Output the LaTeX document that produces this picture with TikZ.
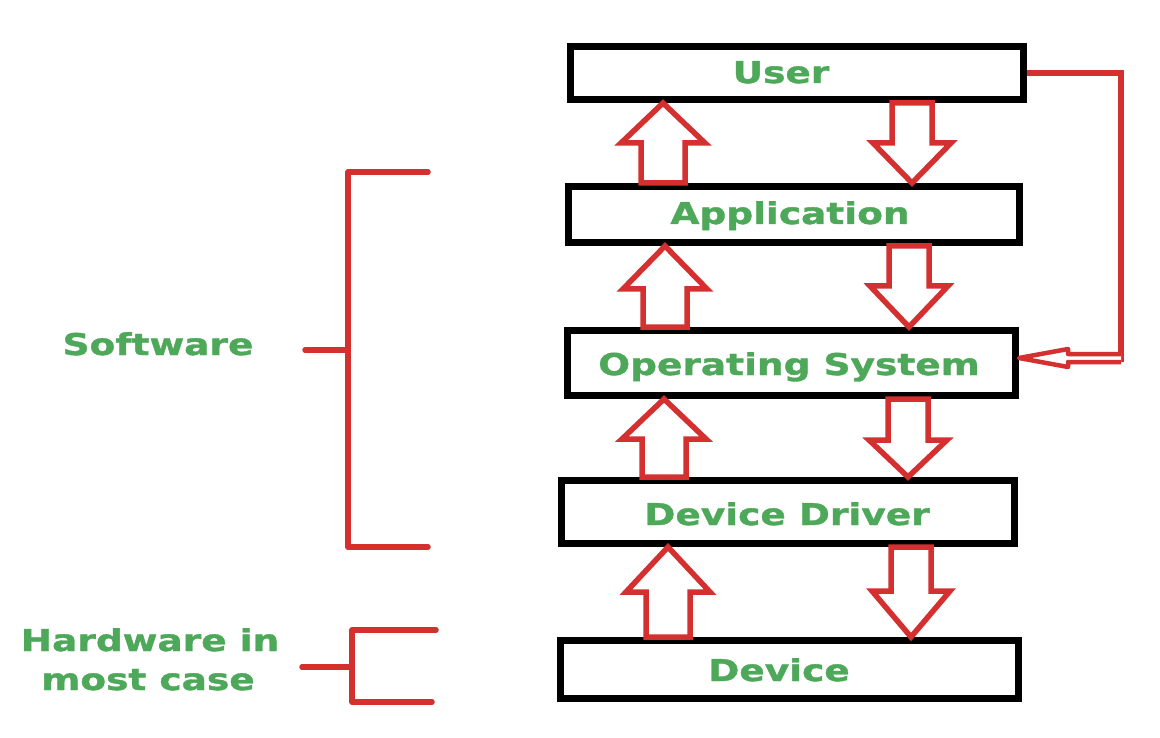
\documentclass[tikz,border=0pt]{standalone}
\usepackage{fontspec}
\setmainfont{DejaVu Sans}
\newfontfamily\lblfont[FakeStretch=1.25, FakeBold=1.2]{DejaVu Sans}
\usetikzlibrary{calc}
\definecolor{lblgreen}{RGB}{77,168,90}
\definecolor{arrred}{RGB}{212,48,48}
\tikzset{
  layerbox/.style={draw=black, line width=7pt, fill=white, inner sep=0pt},
  lbl/.style={text=lblgreen, font=\lblfont\bfseries\fontsize{30}{36}\selectfont, anchor=base, inner sep=0pt},
  blockarr/.style={draw=arrred, line width=5.5pt, fill=white, line join=miter},
  redline/.style={draw=arrred, line width=5.5pt, line cap=round, line join=round},
}
% #1 lower node, #2 upper node, #3 centre x, #4 head length
\newcommand\uparrowblk[4]{%
  \draw[blockarr] let \p1=(#1.north), \p2=(#2.south) in
    (#3pt-22pt,\y1) -- (#3pt-22pt,\y2-#4pt) -- (#3pt-42pt,\y2-#4pt) -- (#3pt,\y2)
    -- (#3pt+42pt,\y2-#4pt) -- (#3pt+22pt,\y2-#4pt) -- (#3pt+22pt,\y1) -- cycle;}
\newcommand\downarrowblk[4]{%
  \draw[blockarr] let \p1=(#1.south), \p2=(#2.north) in
    (#3pt-20pt,\y1) -- (#3pt-20pt,\y2+#4pt) -- (#3pt-39pt,\y2+#4pt) -- (#3pt,\y2)
    -- (#3pt+39pt,\y2+#4pt) -- (#3pt+20pt,\y2+#4pt) -- (#3pt+20pt,\y1) -- cycle;}
\begin{document}
\begin{tikzpicture}[x=1pt, y=-1pt]
\fill[white] (0,0) rectangle (1160,738);
\useasboundingbox (0,0) rectangle (1160,738);

% layer boxes
\node[layerbox, minimum width=453pt, minimum height=53pt] (user) at (797,73) {};
\node[layerbox, minimum width=451pt, minimum height=56pt] (app) at (794,214.5) {};
\node[layerbox, minimum width=448pt, minimum height=65pt] (os) at (791.5,363) {};
\node[layerbox, minimum width=453pt, minimum height=63pt] (dd) at (788,512) {};
\node[layerbox, minimum width=458pt, minimum height=58pt] (dev) at (789.5,669.5) {};

% labels
\node[lbl] (userT) at (781,83) {User};
\node[lbl] (appT) at (790,224) {Application};
\node[lbl] (osT) at (789,375) {Operating System};
\node[lbl] (ddT) at (787,525) {Device Driver};
\node[lbl] (devT) at (779,681) {Device};
\node[lbl] (swT) at (158,355) {Software};
\node[lbl] (hw1) at (150,651) {Hardware in};
\node[lbl] (hw2) at (148,690) {most case};

% block arrows
\uparrowblk{app}{user}{663}{40}
\uparrowblk{os}{app}{665}{43}
\uparrowblk{dd}{os}{664}{40}
\uparrowblk{dev}{dd}{668}{45}
\downarrowblk{user}{app}{912}{40}
\downarrowblk{app}{os}{909}{41}
\downarrowblk{os}{dd}{908}{37}
\downarrowblk{dd}{dev}{911}{46}

% user -> operating system connector
\coordinate (corner) at (1121,362);
\draw[draw=arrred, line width=5.5pt, line join=miter] (user.east) -| (corner);
\draw[draw=arrred, line width=4.5pt, fill=white, line join=round]
  let \p1=(os.east) in
  (1121pt,\y1+9pt) -- (1068pt,\y1+9pt) -- (1068pt,\y1+14pt) -- (\x1,\y1+5pt)
  -- (1068pt,\y1-4pt) -- (1068pt,\y1+1pt) -- (1121pt,\y1+1pt);

% brackets
\coordinate (swTop) at (428,172);
\coordinate (swBot) at (428,547);
\coordinate (swTick) at (305,350);
\draw[redline] (swTop) -- (348,172) -- (348,547) -- (swBot);
\draw[redline] (swTick) -- (348,350);
\coordinate (hwTop) at (436,630);
\coordinate (hwBot) at (432,702);
\coordinate (hwTick) at (302,667);
\draw[redline] (hwTop) -- (352,630) -- (352,702) -- (hwBot);
\draw[redline] (hwTick) -- (352,667);
\end{tikzpicture}
\end{document}
